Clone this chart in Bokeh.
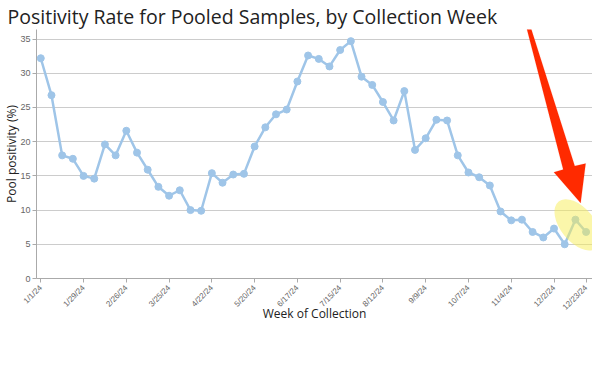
import math
from bokeh.plotting import figure
from bokeh.models import Range1d, FixedTicker, PolyAnnotation, ColumnDataSource
from bokeh.embed import file_html
from bokeh.resources import INLINE

# ---- data -------------------------------------------------------------
week_labels = [
    "1/1/24", "1/8/24", "1/15/24", "1/22/24", "1/29/24", "2/5/24", "2/12/24",
    "2/19/24", "2/26/24", "3/4/24", "3/11/24", "3/18/24", "3/25/24", "4/1/24",
    "4/8/24", "4/15/24", "4/22/24", "4/29/24", "5/6/24", "5/13/24", "5/20/24",
    "5/27/24", "6/3/24", "6/10/24", "6/17/24", "6/24/24", "7/1/24", "7/8/24",
    "7/15/24", "7/22/24", "7/29/24", "8/5/24", "8/12/24", "8/19/24", "8/26/24",
    "9/2/24", "9/9/24", "9/16/24", "9/23/24", "9/30/24", "10/7/24", "10/14/24",
    "10/21/24", "10/28/24", "11/4/24", "11/11/24", "11/18/24", "11/25/24",
    "12/2/24", "12/9/24", "12/16/24", "12/23/24",
]
positivity = [
    32.2, 26.8, 18.0, 17.5, 15.0, 14.6, 19.6, 18.0, 21.6, 18.4,
    15.9, 13.4, 12.1, 12.9, 10.0, 9.9, 15.4, 14.0, 15.2, 15.3,
    19.3, 22.1, 24.0, 24.7, 28.8, 32.6, 32.1, 31.0, 33.4, 34.7,
    29.5, 28.3, 25.8, 23.1, 27.4, 18.8, 20.5, 23.2, 23.1, 18.0,
    15.5, 14.8, 13.6, 9.8, 8.5, 8.6, 6.8, 6.0, 7.3, 5.0,
    8.6, 6.8,
]
tick_weeks = [0, 4, 8, 12, 16, 20, 24, 28, 32, 36, 40, 44, 48, 51]
y_ticks = [0, 5, 10, 15, 20, 25, 30, 35]

week_index = list(range(len(positivity)))
source = ColumnDataSource(dict(week=week_index, rate=positivity, label=week_labels))

# ---- figure -----------------------------------------------------------
p = figure(
    width=592, height=338,
    output_backend="svg", toolbar_location=None,
    x_range=Range1d(-0.4, 51.6), y_range=Range1d(0, 36.4),
    title="Positivity Rate for Pooled Samples, by Collection Week",
    min_border_left=29, min_border_right=0, min_border_top=0, min_border_bottom=60,
)
p.outline_line_color = None
p.background_fill_color = "white"
p.border_fill_color = "white"

p.title.text_font = "Open Sans"
p.title.text_font_size = "19.5px"
p.title.text_font_style = "normal"
p.title.text_color = "#222222"
p.title.align = "left"
p.title.standoff = 0
p.title.offset = -29

# axes
p.xaxis.ticker = FixedTicker(ticks=tick_weeks)
p.xaxis.major_label_overrides = {w: week_labels[w] for w in tick_weeks}
p.xaxis.major_label_orientation = math.pi / 4
p.xaxis.major_label_text_font = "Liberation Sans"
p.xaxis.major_label_text_font_size = "8px"
p.xaxis.major_label_text_color = "#666666"
p.xaxis.major_label_standoff = 4
p.xaxis.axis_label = "Week of Collection"

p.yaxis.ticker = FixedTicker(ticks=y_ticks)
p.yaxis.major_label_text_font = "Liberation Sans"
p.yaxis.major_label_text_font_size = "9px"
p.yaxis.major_label_text_color = "#666666"
p.yaxis.major_label_standoff = 2
p.yaxis.axis_label = "Pool positivity (%)"

for ax in (p.xaxis, p.yaxis):
    ax.axis_line_color = "#aaaaaa"
    ax.major_tick_line_color = "#aaaaaa"
    ax.major_tick_out = 4
    ax.major_tick_in = 0
    ax.minor_tick_line_color = None
    ax.axis_label_text_font = "Open Sans"
    ax.axis_label_text_font_size = "12px"
    ax.axis_label_text_font_style = "normal"
    ax.axis_label_text_color = "#222222"

p.xaxis.axis_label_standoff = -13
p.yaxis.axis_label_standoff = -3

p.xgrid.grid_line_color = None
p.ygrid.grid_line_color = "#cccccc"
p.ygrid.grid_line_width = 1

# ---- series -----------------------------------------------------------
line_color = "#9fc5e8"
p.line("week", "rate", source=source, line_color=line_color, line_width=2.5)
p.scatter("week", "rate", source=source, size=7, fill_color=line_color,
          line_color=line_color)

# ---- highlight + arrow annotation ------------------------------------
hl_x, hl_y = 50.2, 7.85
p.ellipse(x=hl_x, y=hl_y, width=60, height=34, width_units="screen",
          height_units="screen", angle=-51, angle_units="deg",
          fill_color="#f8ee55", fill_alpha=0.5, line_color=None)

arrow_xs = [45.25, 45.58, 49.94, 50.96, 50.49, 47.99, 48.86]
arrow_ys = [37.76, 37.91, 16.44, 16.81, 11.03, 15.53, 15.93]
p.add_layout(PolyAnnotation(xs=arrow_xs, ys=arrow_ys, fill_color="#ff2a00",
                            fill_alpha=1.0, line_color="#ff2a00", line_width=0.5))

open("out.html", "w").write(file_html(p, INLINE))
